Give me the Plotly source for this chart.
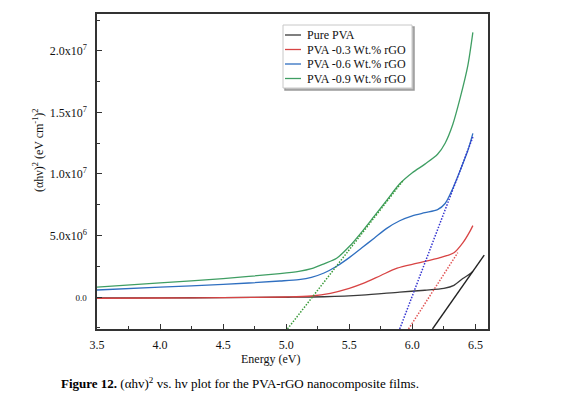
import plotly.graph_objects as go

# ---------------- data ----------------
black_E = [3.5, 4.0, 4.5, 5.0, 5.3, 5.6, 5.9, 6.1, 6.25, 6.33, 6.40, 6.46, 6.48]
black_y = [-0.08, -0.07, -0.05, -0.02, 0.02, 0.15, 0.4, 0.55, 0.7, 0.95, 1.5, 1.9, 2.1]

red_E = [3.5, 4.0, 4.5, 5.0, 5.2, 5.35, 5.5, 5.61, 5.75, 5.88, 6.04, 6.22, 6.33, 6.40, 6.46, 6.48]
red_y = [-0.1, -0.08, -0.05, 0.0, 0.08, 0.3, 0.7, 1.1, 1.75, 2.35, 2.75, 3.2, 3.6, 4.4, 5.4, 5.8]

blue_E = [3.5, 4.0, 4.5, 4.95, 5.1, 5.2, 5.3, 5.4, 5.5, 5.6, 5.7, 5.8, 5.9, 6.0, 6.1, 6.2, 6.26, 6.32, 6.38, 6.44, 6.48]
blue_y = [0.57, 0.8, 1.02, 1.3, 1.42, 1.6, 1.95, 2.5, 3.2, 4.0, 4.8, 5.6, 6.2, 6.6, 6.85, 7.1, 7.6, 8.8, 10.3, 11.9, 13.3]

green_E = [3.5, 4.0, 4.5, 4.95, 5.1, 5.2, 5.3, 5.4, 5.5, 5.6, 5.7, 5.8, 5.9, 6.0, 6.1, 6.2, 6.26, 6.32, 6.38, 6.44, 6.48]
green_y = [0.8, 1.15, 1.5, 1.9, 2.08, 2.3, 2.7, 3.15, 4.1, 5.3, 6.6, 7.9, 9.2, 10.1, 10.8, 11.6, 12.5, 14.0, 16.2, 18.8, 21.5]

# linear fits (Tauc extrapolation) end points
black_fit_E = [6.16, 6.57]
black_fit_y = [-2.6, 3.4]
red_fit_E = [5.97, 6.36]
red_fit_y = [-2.6, 3.6]
blue_fit_E = [5.90, 6.48]
blue_fit_y = [-2.6, 13.0]
green_fit_E = [5.01, 5.93]
green_fit_y = [-2.6, 9.5]

SCALE = 1e6
series_names = ["Pure PVA", "PVA -0.3 Wt.% rGO", "PVA -0.6 Wt.% rGO", "PVA -0.9 Wt.% rGO"]
x_tickvals = [3.5, 4.0, 4.5, 5.0, 5.5, 6.0, 6.5]
x_ticktext = ["3.5", "4.0", "4.5", "5.0", "5.5", "6.0", "6.5"]
y_tickvals = [0, 5e6, 1e7, 1.5e7, 2e7]
y_ticktext = ['<span style="font-size:9px">0.0</span>', "5.0x10<sup>6</sup>", "1.0x10<sup>7</sup>",
              "1.5x10<sup>7</sup>", "2.0x10<sup>7</sup>"]

colors = ["#3a3a3a", "#d84444", "#2f6fc0", "#3f9e63"]
fit_colors = ["#222222", "#e05555", "#3535d0", "#3a9a3a"]

FONT = "Liberation Serif"

fig = go.Figure()
curves = [(black_E, black_y), (red_E, red_y), (blue_E, blue_y), (green_E, green_y)]
fits = [(black_fit_E, black_fit_y), (red_fit_E, red_fit_y), (blue_fit_E, blue_fit_y), (green_fit_E, green_fit_y)]

for (E, y), name, c in zip(curves, series_names, colors):
    fig.add_trace(go.Scatter(x=E, y=[v * SCALE for v in y], mode="lines", name=name,
                             line=dict(color=c, width=1.3, shape="spline", smoothing=0.8),
                             showlegend=False))
for i, ((E, y), c) in enumerate(zip(fits, fit_colors)):
    fig.add_trace(go.Scatter(x=E, y=[v * SCALE for v in y], mode="lines",
                             line=dict(color=c, width=1.4 if i == 0 else 1.5,
                                       dash="solid" if i == 0 else "1.5px,1.5px"),
                             showlegend=False))

# ---------- layout geometry ----------
W, H = 572, 404
L, R, T, B = 97, 488, 14, 329
pw, ph = R - L, B - T

def px(x):
    return (x - L) / pw

def py(y):
    return (B - y) / ph

fig.update_layout(
    width=W, height=H,
    margin=dict(l=L, r=W - R, t=T, b=H - B),
    paper_bgcolor="white", plot_bgcolor="white",
    font=dict(family=FONT, size=12, color="#111111"),
    showlegend=False,
)
fig.update_xaxes(range=[3.5, 6.6], tickvals=x_tickvals, ticktext=x_ticktext,
                 ticks="inside", ticklen=5, tickwidth=1.2, tickcolor="#333",
                 minor=dict(dtick=0.25, tick0=3.5, ticks="inside", ticklen=3, tickwidth=1, tickcolor="#333"),
                 showline=True, linecolor="#333", linewidth=1.5, mirror=True,
                 showgrid=False, zeroline=False, ticklabelstandoff=4,
                 tickfont=dict(family=FONT, size=12))
fig.update_yaxes(range=[-2.6e6, 2.3e7], tickvals=y_tickvals, ticktext=y_ticktext,
                 ticks="inside", ticklen=5, tickwidth=1.2, tickcolor="#333",
                 minor=dict(dtick=2.5e6, tick0=0, ticks="inside", ticklen=3, tickwidth=1, tickcolor="#333"),
                 showline=True, linecolor="#333", linewidth=1.5, mirror=True,
                 showgrid=False, zeroline=False, ticklabelstandoff=6,
                 tickfont=dict(family=FONT, size=12))

# axis titles
fig.add_annotation(text="(αhν)<sup>2</sup> (eV cm<sup>-1</sup>)<sup>2</sup>", xref="paper", yref="paper",
                   x=px(38), y=py(150), textangle=-90, showarrow=False,
                   font=dict(family=FONT, size=12), xanchor="center", yanchor="middle")
fig.add_annotation(text="Energy (eV)", xref="paper", yref="paper", x=px(270), y=py(359),
                   showarrow=False, font=dict(family=FONT, size=12), xanchor="center", yanchor="middle")
fig.add_annotation(text="<b>Figure 12.</b> (αhv)<sup>2</sup> vs. hv plot for the PVA-rGO nanocomposite films.",
                   xref="paper", yref="paper", x=px(59), y=py(383), showarrow=False,
                   font=dict(family=FONT, size=13, color="#000"), xanchor="left", yanchor="middle")

# legend box (drawn manually to match the compact original)
bx0, bx1, by0, by1 = 283, 412, 25, 88
fig.add_shape(type="rect", xref="paper", yref="paper", x0=px(bx0 + 2), x1=px(bx1 + 2), y0=py(by1 + 2), y1=py(by0 + 2),
              line=dict(color="#9a9a9a", width=1.5), fillcolor="#bdbdbd", layer="above")
fig.add_shape(type="rect", xref="paper", yref="paper", x0=px(bx0), x1=px(bx1), y0=py(by1), y1=py(by0),
              line=dict(color="#c8c8c8", width=1), fillcolor="white", layer="above")
rows = [35, 49.5, 64, 78.5]
for name, c, ry in zip(series_names, colors, rows):
    fig.add_shape(type="line", xref="paper", yref="paper", x0=px(285), x1=px(301), y0=py(ry), y1=py(ry),
                  line=dict(color=c, width=1.3), layer="above")
    fig.add_annotation(text=name, xref="paper", yref="paper", x=px(305), y=py(ry), showarrow=False,
                       xanchor="left", yanchor="middle", font=dict(family=FONT, size=12, color="#111"))

fig.write_html("out.html")
